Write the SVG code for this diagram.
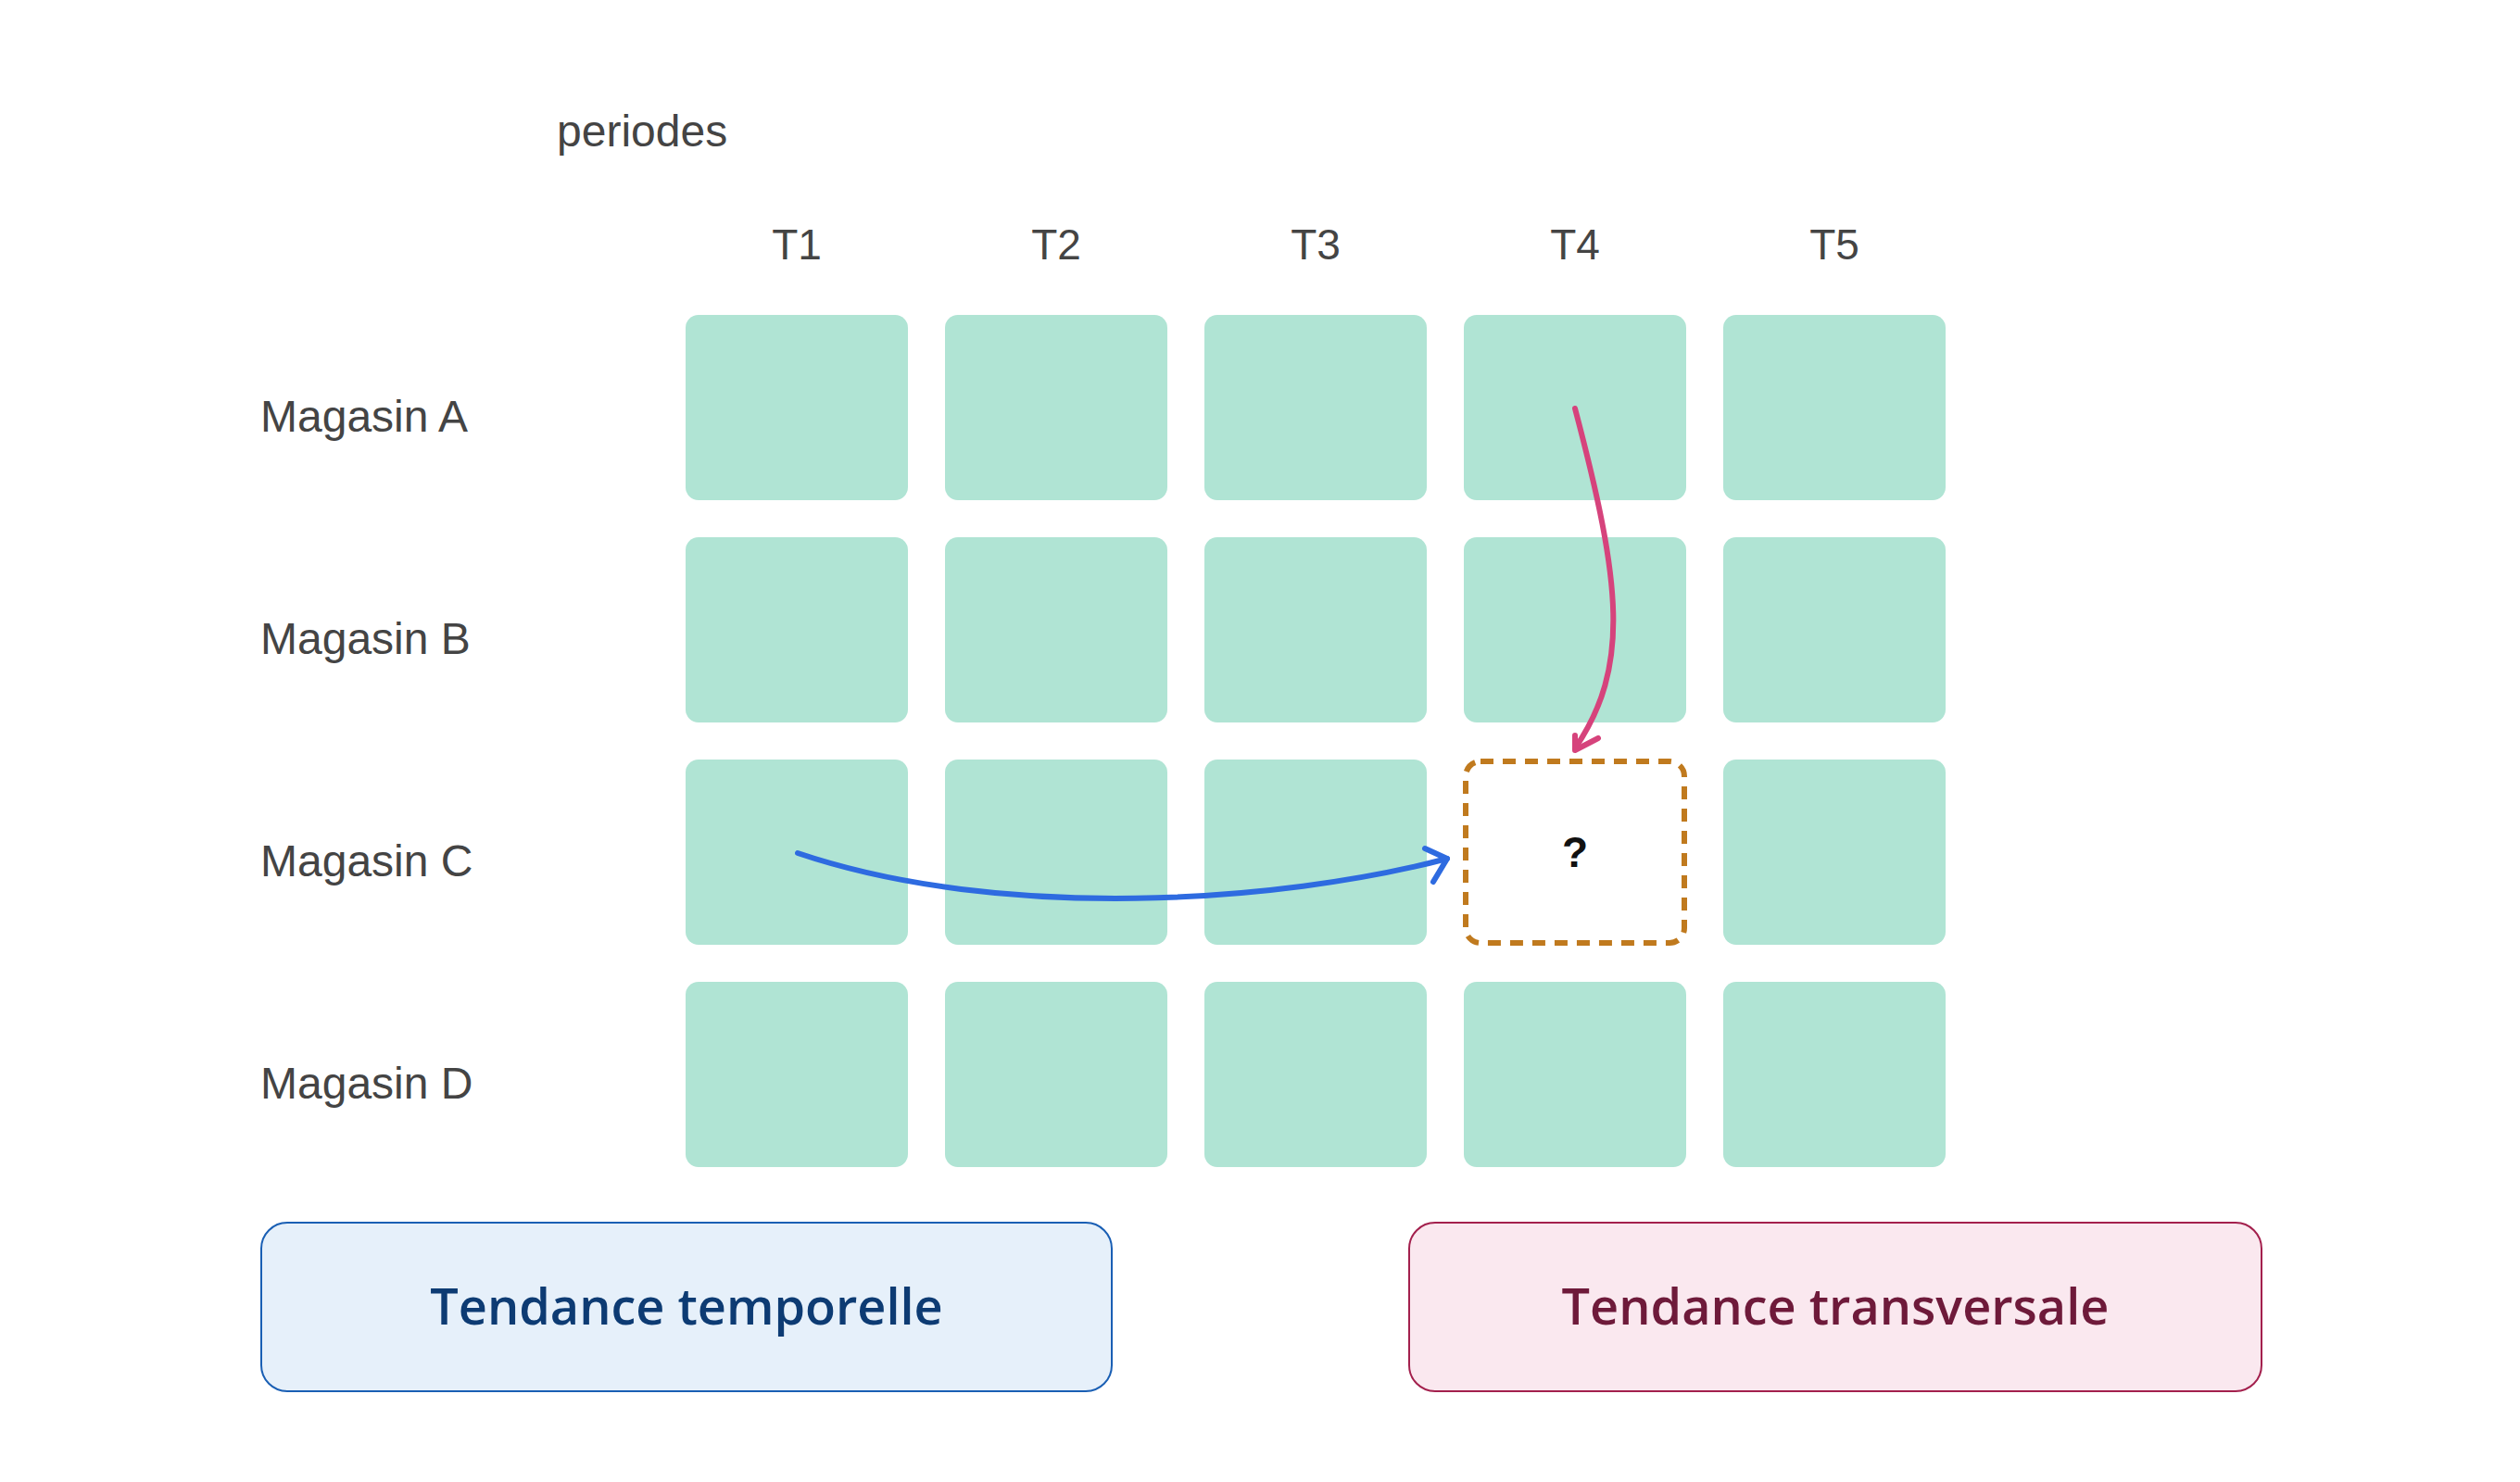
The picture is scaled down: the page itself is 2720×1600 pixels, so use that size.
<svg xmlns="http://www.w3.org/2000/svg" width="2720" height="1600" viewBox="0 0 2720 1600">
<style>
.c{fill:#b0e4d4}
.t{font-family:"Liberation Sans",Arial,sans-serif;font-size:48px;fill:#444}
.h{font-family:"Liberation Sans",Arial,sans-serif;font-size:46px;fill:#444;text-anchor:middle}
.b{font-family:"Open Sans","Liberation Sans",sans-serif;font-size:54px;font-weight:600;text-anchor:middle}
</style>
<rect width="2720" height="1600" fill="#fff"/>
<text class="t" x="601" y="158">periodes</text>
<g id="headers">
<text class="h" x="860" y="280">T1</text><text class="h" x="1140" y="280">T2</text><text class="h" x="1420" y="280">T3</text><text class="h" x="1700" y="280">T4</text><text class="h" x="1980" y="280">T5</text>
</g>
<g id="rows">
<text class="t" x="281" y="466">Magasin A</text><text class="t" x="281" y="706">Magasin B</text><text class="t" x="281" y="946">Magasin C</text><text class="t" x="281" y="1186">Magasin D</text>
</g>
<g id="cells">
<rect class="c" x="740" y="340" width="240" height="200" rx="14"/><rect class="c" x="1020" y="340" width="240" height="200" rx="14"/><rect class="c" x="1300" y="340" width="240" height="200" rx="14"/><rect class="c" x="1580" y="340" width="240" height="200" rx="14"/><rect class="c" x="1860" y="340" width="240" height="200" rx="14"/>
<rect class="c" x="740" y="580" width="240" height="200" rx="14"/><rect class="c" x="1020" y="580" width="240" height="200" rx="14"/><rect class="c" x="1300" y="580" width="240" height="200" rx="14"/><rect class="c" x="1580" y="580" width="240" height="200" rx="14"/><rect class="c" x="1860" y="580" width="240" height="200" rx="14"/>
<rect class="c" x="740" y="820" width="240" height="200" rx="14"/><rect class="c" x="1020" y="820" width="240" height="200" rx="14"/><rect class="c" x="1300" y="820" width="240" height="200" rx="14"/><rect class="c" x="1860" y="820" width="240" height="200" rx="14"/>
<rect class="c" x="740" y="1060" width="240" height="200" rx="14"/><rect class="c" x="1020" y="1060" width="240" height="200" rx="14"/><rect class="c" x="1300" y="1060" width="240" height="200" rx="14"/><rect class="c" x="1580" y="1060" width="240" height="200" rx="14"/><rect class="c" x="1860" y="1060" width="240" height="200" rx="14"/>
</g>
<g id="target">
<rect x="1582" y="822" width="236" height="196" rx="16" fill="#fff" stroke="#c07a1e" stroke-width="6" stroke-dasharray="14,10"/>
<text x="1700" y="936" font-family="Liberation Sans,Arial,sans-serif" font-size="46" font-weight="bold" text-anchor="middle" fill="#111">?</text>
</g>
<g id="connectors" fill="none" stroke-width="6" stroke-linecap="round">
<path d="M1700,441 C1750,630 1760,720 1700,808" stroke="#d6437c"/>
<path d="M1700,794 L1700,810 L1725,797" stroke="#d6437c" stroke-linejoin="round"/>
<path d="M861,921 C1080,995 1380,975 1562,927" stroke="#2e6be0"/>
<path d="M1538,916 L1562,927 L1547,952" stroke="#2e6be0" stroke-linejoin="round"/>
</g>
<g id="legend-temporal">
<rect x="282" y="1320" width="918" height="182" rx="28" fill="#e6f0fa" stroke="#1a5fb4" stroke-width="2"/>
<text class="b" x="741" y="1430" fill="#0d3b73">Tendance temporelle</text>
</g>
<g id="legend-transversal">
<rect x="1521" y="1320" width="920" height="182" rx="28" fill="#fae8ef" stroke="#a3204d" stroke-width="2"/>
<text class="b" x="1981" y="1430" fill="#6e1a3a">Tendance transversale</text>
</g>
</svg>
